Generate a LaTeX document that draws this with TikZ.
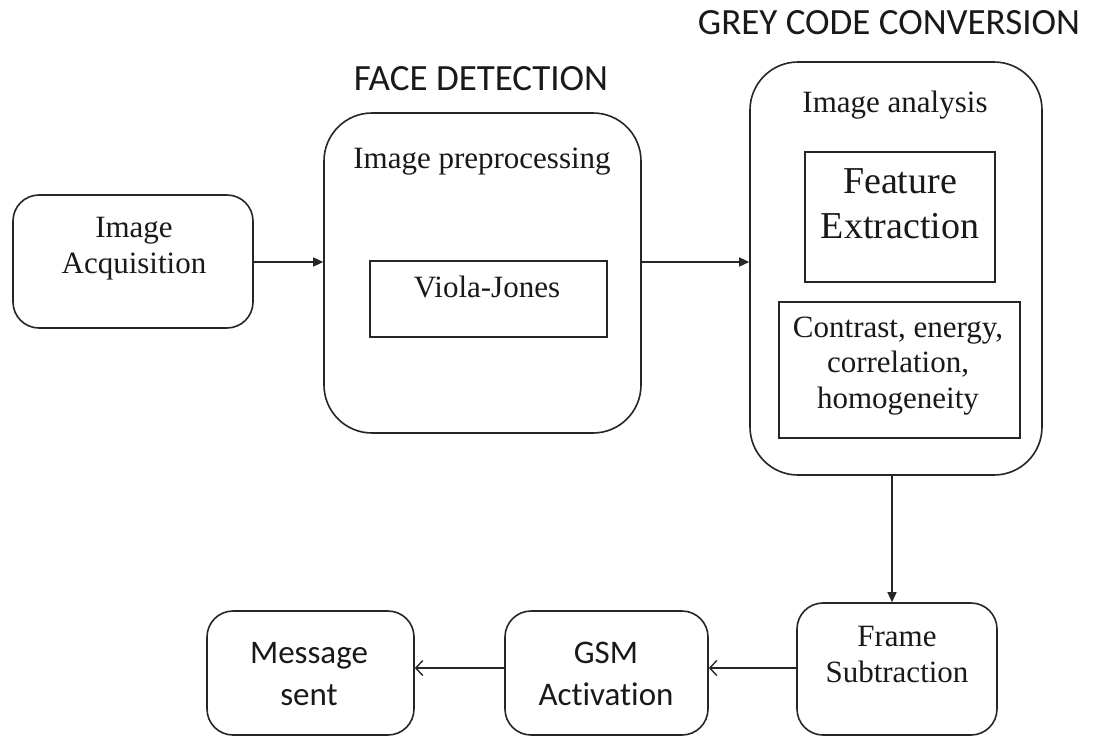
\documentclass[tikz,border=0pt]{standalone}
\usepackage{fontspec}
\setmainfont{Liberation Serif}
\newfontfamily\capsans[Ligatures={NoCommon,NoDiscretionary}]{Carlito}
\usetikzlibrary{arrows.meta}
\begin{document}
\begin{tikzpicture}[x=1pt,y=-1pt,
  ink/.style={draw=black!85, line width=1.6pt},
  box/.style={ink, inner sep=0pt, fill=white},
  stagebox/.style={box, rounded corners=48pt},
  unitbox/.style={box, rounded corners=26pt},
  plainbox/.style={box},
  serif/.style={inner sep=0pt, text=black!90, align=center, anchor=base,
    font=\fontsize{31}{35.5}\selectfont},
  bigserif/.style={serif, font=\fontsize{38}{45}\selectfont},
  sans/.style={inner sep=0pt, text=black!90, align=center, anchor=base,
    font=\capsans\fontsize{33}{42}\selectfont},
  heading/.style={sans, font=\capsans\fontsize{37}{44}\selectfont},
  solidarrow/.style={ink, line width=1.4pt, -{Triangle[length=10pt,width=9pt]}},
  openarrow/.style={ink, line width=1.4pt, -{Straight Barb[length=7pt,width=15pt]}}
]
\useasboundingbox (0,0) rectangle (1094,737);

% outer stages
\node[unitbox, minimum width=240pt, minimum height=133pt] (acq) at (133,261.5) {};
\node[stagebox, minimum width=317pt, minimum height=320pt] (face) at (482.5,273) {};
\node[stagebox, minimum width=292pt, minimum height=413pt] (grey) at (896,268.5) {};

% inner blocks
\node[plainbox, minimum width=237pt, minimum height=76pt] (viola) at (488.5,299) {};
\node[plainbox, minimum width=190pt, minimum height=130pt] (feat) at (900,217) {};
\node[plainbox, minimum width=241pt, minimum height=136pt] (stats) at (899.5,370) {};

% bottom row
\node[unitbox, minimum width=200pt, minimum height=132pt] (frame) at (897,669) {};
\node[unitbox, minimum width=203pt, minimum height=124pt] (gsm) at (606.5,673) {};
\node[unitbox, minimum width=207pt, minimum height=124pt] (msg) at (310.5,673) {};

% headings
\node[heading] (facehead) at (481,90) {FACE DETECTION};
\node[heading] (greyhead) at (889,34) {GREY CODE CONVERSION};

% labels (a multi-line node sits on the baseline of its last line)
\node[serif] (acqtext) at (134,273) {Image\\Acquisition};
\node[serif] (pretext) at (482,168) {Image preprocessing};
\node[serif] (violatext) at (487,297) {Viola-Jones};
\node[serif] (anatext) at (895,112) {Image analysis};
\node[bigserif] (feattext) at (900,238) {Feature\\Extraction};
\node[serif] (statstext) at (898,408) {Contrast, energy,\\correlation,\\homogeneity};
\node[serif] (frametext) at (897,682) {Frame\\Subtraction};
\node[sans] (gsmtext) at (606,705) {GSM\\Activation};
\node[sans] (msgtext) at (309,705) {Message\\sent};

% connectors
\coordinate (rowy) at (0,262);
\draw[solidarrow] (acq.east |- rowy) -- (face.west |- rowy);
\draw[solidarrow] (face.east |- rowy) -- (grey.west |- rowy);
\coordinate (colx) at (892,0);
\draw[solidarrow] (colx |- grey.south) -- (colx |- frame.north);
\coordinate (lowy) at (0,668);
\draw[openarrow] (frame.west |- lowy) -- (gsm.east |- lowy);
\draw[openarrow] (gsm.west |- lowy) -- (msg.east |- lowy);
\end{tikzpicture}
\end{document}
